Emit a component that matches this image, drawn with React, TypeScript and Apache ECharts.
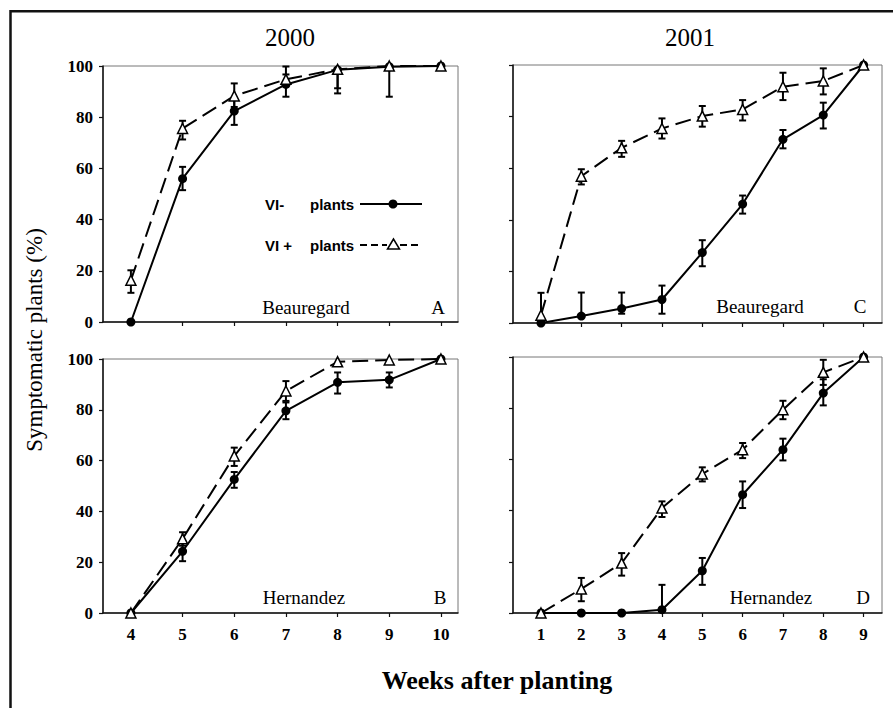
import React, { useEffect, useRef } from "react";
import * as echarts from "echarts";

// ---- data ----
const weeks2000 = [4, 5, 6, 7, 8, 9, 10];
const weeks2001 = [1, 2, 3, 4, 5, 6, 7, 8, 9];
const yTicks = [0, 20, 40, 60, 80, 100];

// Panel A: 2000 Beauregard
const aMinus = [0, 56, 82.4, 92.8, 98.5, 99.7, 100];
const aMinusLow = [0, 51.5, 77, 88, 89.3, 88, 100];
const aMinusHigh = [0, 60.6, 87.4, 96.7, 98.5, 99.7, 100];
const aPlus = [16.3, 75.6, 88.3, 94.8, 98.7, 100, 100];
const aPlusLow = [11.4, 71.3, 84, 94.8, 91.3, 100, 100];
const aPlusHigh = [20.2, 78.6, 93.2, 99.8, 98.7, 100, 100];

// Panel B: 2000 Hernandez
const bMinus = [0, 24.3, 52.6, 79.6, 90.8, 91.8, 100];
const bMinusLow = [0, 20.4, 49.3, 76.3, 86.4, 88.8, 100];
const bMinusHigh = [0, 28.3, 55.5, 82.9, 94.7, 94.7, 100];
const bPlus = [0, 29.2, 61.8, 87.4, 98.9, 99.6, 100];
const bPlusLow = [0, 26.5, 57.9, 83.5, 98.9, 99.6, 100];
const bPlusHigh = [0, 31.8, 65.1, 91.3, 98.9, 99.6, 100];

// Panel C: 2001 Beauregard
const cMinus = [0, 2.7, 5.6, 9.1, 27.3, 46.1, 71.2, 80.6, 100];
const cMinusLow = [0, 2.7, 3.6, 3.6, 22, 42.4, 67.7, 75.4, 100];
const cMinusHigh = [0, 11.8, 11.8, 14.5, 32.1, 49.4, 74.8, 85.4, 100];
const cPlus = [3, 56.9, 67.9, 75.4, 80.2, 82.8, 91.6, 93.8, 100];
const cPlusLow = [3, 53.7, 64.4, 71.5, 76.1, 78.5, 86.4, 88.6, 100];
const cPlusHigh = [11.7, 59.6, 70.6, 79.3, 84.1, 86.4, 97, 98.7, 100];

// Panel D: 2001 Hernandez
const dMinus = [0, 0, 0, 1.3, 16.5, 46.2, 63.8, 85.9, 100];
const dMinusLow = [0, 0, 0, 1.3, 11, 41, 59.6, 81.1, 100];
const dMinusHigh = [0, 0, 0, 11, 21.5, 51.4, 68.1, 91.3, 100];
const dPlus = [0, 9.4, 19.5, 41, 54.3, 63.8, 79.4, 94, 100];
const dPlusLow = [0, 4.6, 14.6, 37.5, 51.4, 60.5, 75.7, 89.1, 100];
const dPlusHigh = [0, 13.7, 23.4, 43.6, 56.9, 66.4, 82.9, 98.9, 100];

const yearTitles = ["2000", "2001"];
const panelNames = ["Beauregard", "Hernandez", "Beauregard", "Hernandez"];
const panelLetters = ["A", "B", "C", "D"];
const legendPrefixes = ["VI-", "VI +"];
const legendWord = "plants";

const SERIF = "Liberation Serif";
const SANS = "Liberation Sans";

const pairs = (xs: number[], ys: number[]) => xs.map((x, i) => [x, ys[i]]);
const errs = (xs: number[], v: number[], lo: number[], hi: number[]) =>
  xs.map((x, i) => [x, lo[i], hi[i], v[i]]);

const renderErr = (_params: any, api: any) => {
  const x = api.value(0);
  const lo = api.value(1);
  const hi = api.value(2);
  const v = api.value(3);
  if (hi - lo < 0.3) return null;
  const p1 = api.coord([x, lo]);
  const p2 = api.coord([x, hi]);
  const cap = 3.5;
  const style = { stroke: "#000", lineWidth: 2, fill: "none" };
  const children: any[] = [
    { type: "line", shape: { x1: p1[0], y1: p1[1], x2: p2[0], y2: p2[1] }, style },
  ];
  if (lo < v - 0.1)
    children.push({ type: "line", shape: { x1: p1[0] - cap, y1: p1[1], x2: p1[0] + cap, y2: p1[1] }, style });
  if (hi > v + 0.1)
    children.push({ type: "line", shape: { x1: p2[0] - cap, y1: p2[1], x2: p2[0] + cap, y2: p2[1] }, style });
  return { type: "group", children };
};

export default function App() {
  const ref = useRef<HTMLDivElement>(null);
  useEffect(() => {
    document.body.style.margin = "0";
    if (!ref.current) return;
    const chart = echarts.init(ref.current, undefined, { renderer: "svg" });

    const grids = [
      { left: 103, top: 66, width: 355, height: 256 },
      { left: 103, top: 359, width: 355, height: 254 },
      { left: 513, top: 65, width: 369, height: 258 },
      { left: 513, top: 357, width: 369, height: 256 },
    ].map((g) => ({ ...g, show: true, borderColor: "#777", borderWidth: 1, backgroundColor: "transparent" }));

    const axisLine = { show: true, lineStyle: { color: "#111", width: 1.5 } };
    const tickStyle = { color: "#111", width: 1.2 };
    const labelFont = { fontFamily: SERIF, fontWeight: "bold" as const, fontSize: 17, color: "#000" };

    const xAxis = [0, 1, 2, 3].map((i) => {
      const ws = i < 2 ? weeks2000 : weeks2001;
      const showLabel = i === 1 || i === 3;
      return {
        type: "value",
        gridIndex: i,
        min: i < 2 ? 3.46 : 0.306,
        max: i < 2 ? 10.33 : 9.456,
        axisLine,
        axisTick: { show: true, inside: false, length: 4, lineStyle: tickStyle, customValues: ws },
        axisLabel: { show: showLabel, customValues: ws, margin: 13, ...labelFont },
        splitLine: { show: false },
      };
    });

    const yAxis = [0, 1, 2, 3].map((i) => ({
      type: "value",
      gridIndex: i,
      min: 0,
      max: 100,
      interval: 20,
      axisLine,
      axisTick: { show: true, inside: false, length: 4, lineStyle: tickStyle, customValues: yTicks },
      axisLabel: { show: i < 2, customValues: yTicks, margin: 10, ...labelFont },
      splitLine: { show: false },
    }));

    const panels = [
      { xs: weeks2000, m: aMinus, ml: aMinusLow, mh: aMinusHigh, p: aPlus, pl: aPlusLow, ph: aPlusHigh },
      { xs: weeks2000, m: bMinus, ml: bMinusLow, mh: bMinusHigh, p: bPlus, pl: bPlusLow, ph: bPlusHigh },
      { xs: weeks2001, m: cMinus, ml: cMinusLow, mh: cMinusHigh, p: cPlus, pl: cPlusLow, ph: cPlusHigh },
      { xs: weeks2001, m: dMinus, ml: dMinusLow, mh: dMinusHigh, p: dPlus, pl: dPlusLow, ph: dPlusHigh },
    ];

    const series: any[] = [];
    panels.forEach((pn, i) => {
      series.push({
        type: "custom",
        name: "err- " + i,
        xAxisIndex: i,
        yAxisIndex: i,
        renderItem: renderErr,
        data: errs(pn.xs, pn.m, pn.ml, pn.mh),
        encode: { x: 0, y: [1, 2] },
        z: 2,
        silent: true,
      });
      series.push({
        type: "custom",
        name: "err+ " + i,
        xAxisIndex: i,
        yAxisIndex: i,
        renderItem: renderErr,
        data: errs(pn.xs, pn.p, pn.pl, pn.ph),
        encode: { x: 0, y: [1, 2] },
        z: 2,
        silent: true,
      });
      series.push({
        type: "line",
        name: "VI- plants",
        xAxisIndex: i,
        yAxisIndex: i,
        data: pairs(pn.xs, pn.m),
        symbol: "circle",
        symbolSize: 9,
        itemStyle: { color: "#000" },
        lineStyle: { color: "#000", width: 2 },
        z: 3,
        clip: false,
      });
      series.push({
        type: "line",
        name: "VI+ plants",
        xAxisIndex: i,
        yAxisIndex: i,
        data: pairs(pn.xs, pn.p),
        symbol: "triangle",
        symbolSize: 10,
        showAllSymbol: true,
        itemStyle: { color: "#fff", borderColor: "#000", borderWidth: 1.5 },
        lineStyle: { color: "#000", width: 2, type: [16, 7] },
        z: 4,
        clip: false,
      });
    });

    const txt = (
      text: string,
      x: number,
      y: number,
      fontFamily: string,
      fontSize: number,
      fontWeight: string,
      extra: any = {},
      align = "center"
    ) => ({
      type: "text",
      x,
      y,
      style: {
        text,
        fontFamily,
        fontSize,
        fontWeight,
        fill: "#000",
        textAlign: align,
        textVerticalAlign: "middle",
      },
      ...extra,
    });

    const panelTextPos = [
      [306, 307, 438, 307],
      [304, 597, 440, 597],
      [760, 306, 860, 306],
      [771, 597, 863, 597],
    ];

    const graphic: any[] = [
      {
        type: "rect",
        shape: { x: 10.5, y: 11.3, width: 900, height: 720 },
        style: { fill: "none", stroke: "#111", lineWidth: 2.5 },
        silent: true,
      },
      txt(yearTitles[0], 290, 37, SERIF, 25, "normal"),
      txt(yearTitles[1], 690, 37, SERIF, 25, "normal"),
      txt("Symptomatic plants (%)", 34, 340, SERIF, 23, "normal", { rotation: Math.PI / 2 }),
      txt("Weeks after planting", 497, 680, SERIF, 26, "bold"),
    ];
    panelTextPos.forEach((p, i) => {
      graphic.push(txt(panelNames[i], p[0], p[1], SERIF, 19, "normal"));
      graphic.push(txt(panelLetters[i], p[2], p[3], SERIF, 19, "normal"));
    });
    // legend in panel A
    graphic.push(txt(legendPrefixes[0], 265, 204, SANS, 15, "bold", {}, "left"));
    graphic.push(txt(legendPrefixes[1], 265, 245, SANS, 15, "bold", {}, "left"));
    graphic.push(txt(legendWord, 310, 204, SANS, 15, "bold", {}, "left"));
    graphic.push(txt(legendWord, 310, 245, SANS, 15, "bold", {}, "left"));
    graphic.push({
      type: "line",
      shape: { x1: 360, y1: 204, x2: 422, y2: 204 },
      style: { stroke: "#000", lineWidth: 2 },
    });
    graphic.push({ type: "circle", shape: { cx: 393, cy: 204, r: 4.5 }, style: { fill: "#000" } });
    graphic.push({
      type: "line",
      shape: { x1: 360, y1: 245, x2: 387, y2: 245 },
      style: { stroke: "#000", lineWidth: 2, lineDash: [7, 4] },
    });
    graphic.push({
      type: "line",
      shape: { x1: 400, y1: 245, x2: 422, y2: 245 },
      style: { stroke: "#000", lineWidth: 2, lineDash: [7, 4] },
    });
    graphic.push({
      type: "polygon",
      shape: { points: [[393.5, 239], [387.5, 249], [399.5, 249]] },
      style: { fill: "#fff", stroke: "#000", lineWidth: 1.5 },
      z: 10,
    });

    chart.setOption({
      animation: false,
      backgroundColor: "#fff",
      grid: grids,
      xAxis,
      yAxis,
      series,
      graphic,
    });
    return () => chart.dispose();
  }, []);
  return <div ref={ref} style={{ width: 893, height: 708 }} />;
}
